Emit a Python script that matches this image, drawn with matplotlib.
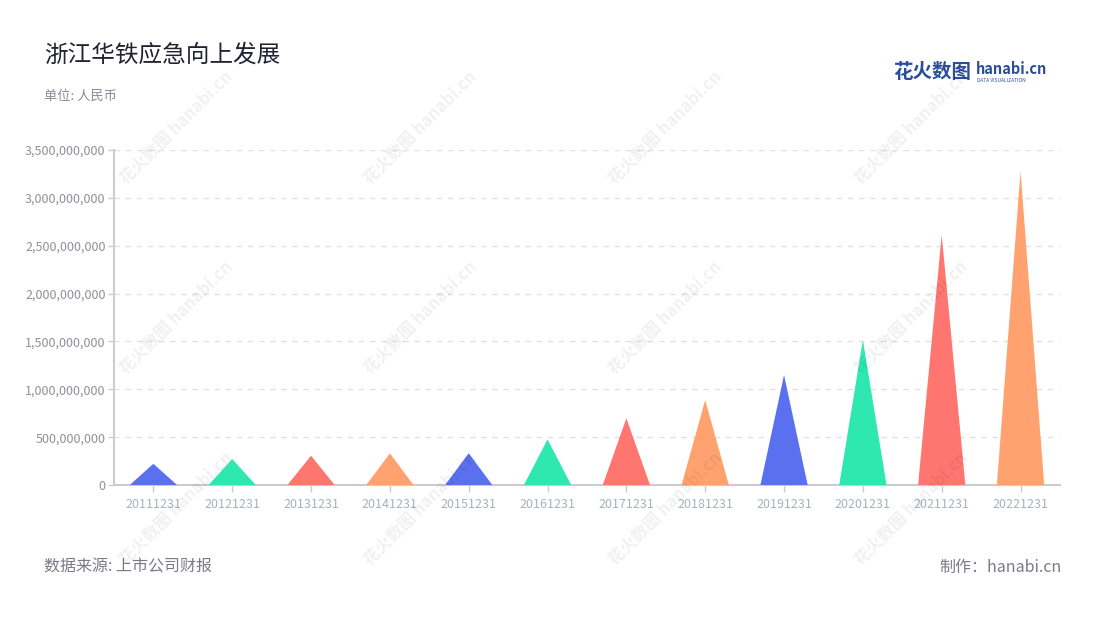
"""
浙江华铁应急向上发展 - 三角形柱状图
"""
import matplotlib
matplotlib.use('Agg')
import matplotlib.pyplot as plt
from matplotlib.ticker import FuncFormatter, MultipleLocator

plt.rcParams['font.family'] = ['Noto Sans CJK SC', 'DejaVu Sans']

# 数据
dates = ['20111231', '20121231', '20131231', '20141231', '20151231', '20161231',
         '20171231', '20181231', '20191231', '20201231', '20211231', '20221231']
values = [222e6, 272e6, 306e6, 331e6, 331e6, 477e6,
          697e6, 888e6, 1149e6, 1515e6, 2612e6, 3281e6]
palette = ['#5a70ee', '#2fe8b1', '#ff7670', '#ffa26f']

fig = plt.figure(figsize=(11, 6.2), dpi=100)
ax = fig.add_axes([0.1036, 0.2177, 0.86, 0.5403])

# 三角形柱子
half = 0.3
for i, v in enumerate(values):
    ax.fill([i - half, i, i + half], [0, v, 0], color=palette[i % 4], lw=0, zorder=3)

ax.set_xlim(-0.5, len(dates) - 0.5)
ax.set_ylim(0, 3.5e9)
ax.set_xticks(range(len(dates)))
ax.set_xticklabels(dates, fontsize=9, color='#aab0bd')
ax.yaxis.set_major_locator(MultipleLocator(5e8))
ax.yaxis.set_major_formatter(FuncFormatter(lambda v, p: f'{int(v):,}'))
ax.tick_params(axis='y', labelsize=9, colors='#8f8f99', length=4, width=1, pad=2)
ax.tick_params(axis='y', color='#cccccc')
ax.tick_params(axis='x', length=5, width=1, color='#cccccc', pad=4)

ax.grid(axis='y', linestyle=(0, (4, 4)), color='#e2e2e2', lw=1, zorder=0)
for s in ['top', 'right']:
    ax.spines[s].set_visible(False)
for s in ['left', 'bottom']:
    ax.spines[s].set_color('#cccccc')
    ax.spines[s].set_linewidth(1.5)

# 水印（半透明，叠在图形上）
for wx in [0.16, 0.382, 0.605, 0.828]:
    for wy in [0.795, 0.487, 0.18]:
        fig.text(wx, wy, '花火数图 hanabi.cn', rotation=45, fontsize=12,
                 color='#000000', alpha=0.06, ha='center', va='center',
                 weight='bold', zorder=10)

# 标题等文字
fig.text(0.04, 0.911, '浙江华铁应急向上发展', fontsize=17, color='#222233', va='center')
fig.text(0.04, 0.845, '单位: 人民币', fontsize=9.5, color='#8a8a99', va='center')
fig.text(0.04, 0.085, '数据来源: 上市公司财报', fontsize=11.5, color='#7a7a88', va='center')
fig.text(0.965, 0.085, '制作：hanabi.cn', fontsize=11.5, color='#7a7a88', va='center', ha='right')

# logo
fig.text(0.812, 0.883, '花火数图', fontsize=14, color='#2a4d9c', weight='bold', va='center')
fig.text(0.887, 0.888, 'hanabi.cn', fontsize=10.5, color='#2a4d9c', weight='bold', va='center')
fig.text(0.888, 0.870, 'DATA VISUALIZATION', fontsize=3.5, color='#2a4d9c', va='center')

plt.savefig('out.png', dpi=100)
plt.close()
